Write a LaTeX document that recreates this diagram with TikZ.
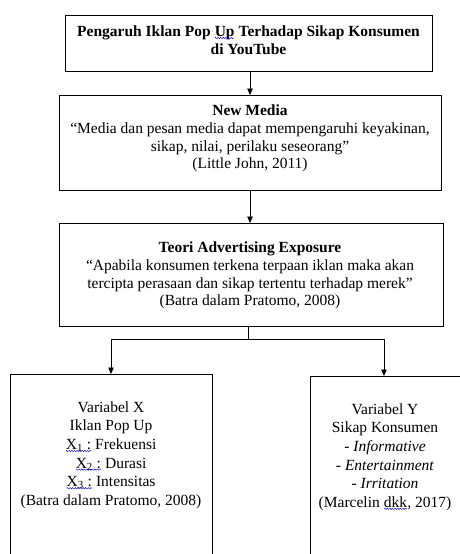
\documentclass[tikz,border=0pt]{standalone}
\usepackage{fontspec}
\setmainfont{Liberation Serif}
\usetikzlibrary{arrows.meta,decorations.pathmorphing}
\newcommand{\sqg}[1]{\tikz[baseline=(sq.base)]{\node[inner sep=0pt, outer sep=0pt] (sq) {#1};\draw[blue!80!black, line width=0.4pt, decorate, decoration={snake, amplitude=0.7pt, segment length=2.6pt}] ([yshift=-1.6pt]sq.base west) -- ([yshift=-1.6pt]sq.base east);}}
\tikzset{
  box/.style={draw=black, line width=0.9pt, rectangle, inner sep=0pt, anchor=north west},
  txt/.style={align=center, inner sep=0pt, font=\fontsize{15.5}{17.7}\selectfont},
  txtb/.style={align=center, inner sep=0pt, font=\fontsize{15.5}{18.6}\selectfont},
  arr/.style={draw=black, line width=0.9pt, -{Triangle[length=6.5pt,width=5.5pt]}},
  ln/.style={draw=black, line width=0.9pt}
}
\begin{document}
\begin{tikzpicture}[x=1pt,y=-1pt]
\useasboundingbox (0,0) rectangle (460,554);
\clip (0,0) rectangle (460,554);
% boxes
\node[box, minimum width=367pt, minimum height=56pt] (b1) at (65,15) {};
\node[box, minimum width=382pt, minimum height=95pt] (b2) at (59,95) {};
\node[box, minimum width=384pt, minimum height=103pt] (b3) at (59,223) {};
\node[box, minimum width=202pt, minimum height=200pt] (bx) at (10,374) {};
\node[box, minimum width=165pt, minimum height=200pt] (by) at (310,376) {};
% texts
\node[txt] (t1) at (248.5,40) {\textbf{Pengaruh Iklan Pop \sqg{Up} Terhadap Sikap Konsumen}\\\textbf{di YouTube}};
\node[txt] (t2) at (250,138.5) {\textbf{New Media}\\``Media dan pesan media dapat mempengaruhi keyakinan,\\sikap, nilai, perilaku seseorang''\\(Little John, 2011)};
\node[txt] (t3) at (250,275.5) {\textbf{Teori Advertising Exposure}\\``Apabila konsumen terkena terpaan iklan maka akan\\tercipta perasaan dan sikap tertentu terhadap merek''\\(Batra dalam Pratomo, 2008)};
\node[txtb] (tx) at (111,455) {Variabel X\\Iklan Pop Up\\\sqg{X\textsubscript{1} :} Frekuensi\\\sqg{X\textsubscript{2} :} Durasi\\\sqg{X\textsubscript{3} :} Intensitas\\(Batra dalam Pratomo, 2008)};
\node[txtb] (ty) at (385,457) {Variabel Y\\Sikap Konsumen\\- \textit{Informative}\\- \textit{Entertainment}\\- \textit{Irritation}\\(Marcelin \sqg{dkk}, 2017)};
% connectors
\coordinate (j) at (248,339);
\draw[arr] (b1.south -| 250,0) -- (b2.north -| 250,0);
\draw[arr] (b2.south -| 250,0) -- (b3.north -| 250,0);
\draw[ln] (b3.south -| j) -- (j);
\draw[arr] (j) -| (bx.north -| 111,0);
\draw[arr] (j) -| (by.north -| 384,0);
\end{tikzpicture}
\end{document}
